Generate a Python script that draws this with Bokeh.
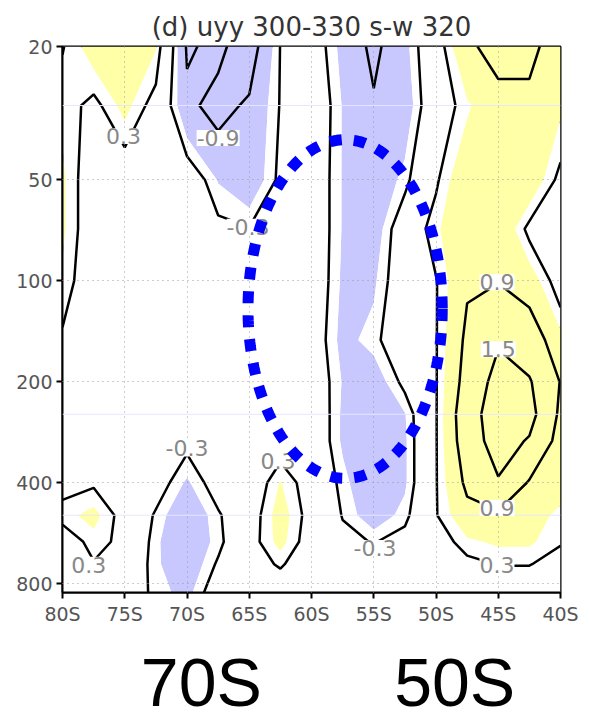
import numpy as np
from bokeh.plotting import figure
from bokeh.models import (Range1d, FixedTicker, CustomJSTickFormatter, PrintfTickFormatter,
                          ColumnDataSource, LabelSet, Span, LinearAxis)
from bokeh.embed import file_html
from bokeh.resources import INLINE
from bokeh.core.properties import value

# ---------------- data ----------------
title_text = "(d) uyy 300-330 s-w 320"
lats = [-80, -77.5, -75, -72.5, -70, -67.5, -65, -62.5, -60, -57.5, -55, -52.5, -50, -47.5, -45, -42.5, -40]
levels_hpa = [20, 30, 50, 70, 100, 150, 200, 250, 300, 400, 500, 600, 700, 850]

uyy_20  = [0.28, 0.65, 0.80, 0.52, -0.95, -0.80, -1.15, -0.29, -0.05, -0.60, -1.00, -0.60, 0.10, 0.85, 1.00, 1.00, 0.70]
uyy_30  = [0.45, 0.20, 0.60, 0.15, -0.80, -1.05, -0.83, -0.28, 0.05, -0.52, -0.85, -0.70, 0.05, 0.45, 0.80, 0.80, 0.55]
uyy_50  = [0.55, 0.05, 0.00, 0.00, 0.00, -0.52, -0.75, -0.22, 0.00, -0.52, -0.80, -0.40, 0.25, 0.80, 0.85, 0.75, 0.20]
uyy_70  = [0.55, 0.05, 0.00, -0.05, -0.05, -0.20, -0.28, -0.10, 0.00, -0.52, -0.70, 0.00, 0.45, 0.80, 0.85, 0.20, 0.10]
uyy_100 = [0.45, 0.05, 0.00, -0.05, -0.10, -0.10, -0.10, -0.05, 0.00, -0.55, -0.55, 0.00, 0.28, 0.85, 0.88, 0.70, 0.10]
uyy_150 = [0.25, 0.05, 0.00, -0.05, -0.10, -0.10, -0.10, -0.05, -0.05, -0.60, -0.40, 0.05, 0.28, 1.00, 1.45, 1.20, 0.60]
uyy_200 = [0.10, 0.05, 0.00, 0.00, -0.05, -0.05, 0.00, 0.00, 0.00, -0.52, -0.70, -0.20, 0.28, 1.10, 1.70, 1.55, 0.88]
uyy_250 = [0.10, 0.05, 0.05, 0.00, -0.05, -0.05, 0.00, 0.05, 0.05, -0.55, -0.75, -0.52, 0.28, 1.25, 1.80, 1.70, 0.80]
uyy_300 = [0.10, 0.10, 0.05, 0.00, -0.20, -0.10, 0.00, 0.10, 0.05, -0.55, -0.80, -0.55, 0.28, 1.20, 1.75, 1.45, 0.70]
uyy_400 = [0.20, 0.25, 0.05, -0.10, -0.55, -0.10, 0.00, 0.52, 0.10, -0.40, -0.85, -0.55, 0.28, 1.00, 1.45, 0.85, 0.60]
uyy_500 = [0.40, 0.60, 0.15, -0.35, -0.80, -0.35, 0.10, 0.65, 0.15, -0.32, -0.70, -0.40, 0.28, 0.75, 0.80, 0.60, 0.45]
uyy_600 = [0.10, 0.40, 0.22, -0.45, -0.80, -0.40, 0.15, 0.60, 0.10, -0.20, -0.32, -0.15, 0.10, 0.45, 0.55, 0.55, 0.32]
uyy_700 = [0.00, 0.28, 0.10, -0.45, -0.75, -0.25, 0.10, 0.35, 0.00, -0.10, -0.10, -0.05, 0.00, 0.20, 0.31, 0.31, 0.20]
uyy_850 = [-0.10, 0.00, 0.00, -0.40, -0.60, -0.05, 0.00, 0.00, 0.00, 0.00, 0.00, 0.00, 0.00, 0.05, 0.10, 0.10, 0.05]

lat_ticks = [-80, -75, -70, -65, -60, -55, -50, -45, -40]
p_ticks = [20, 50, 100, 200, 400, 800]
contour_levels = [-0.9, -0.3, 0.3, 0.9, 1.5]
shade_levels = [-3.0, -0.5, 0.5, 3.0]

label_text = ["0.3", "-0.9", "-0.3", "0.9", "1.5", "-0.3", "0.3", "0.9", "0.3", "-0.3", "0.3"]
label_lat = [-75.1, -67.5, -65.1, -45.1, -45.0, -70.0, -62.7, -45.1, -77.9, -54.9, -45.1]
label_p = [37, 37.5, 69, 101, 160, 316, 345, 476, 703, 626, 703]

faint_p = [30, 250, 500]

# highlighted region (ellipse): centre latitude, centre log10(p), half-widths
ell_lat, ell_logp, ell_a, ell_b = -57.3, 2.084, 7.8, 0.505

# big annotation texts under the chart and where they sit (latitude)
big_text = ["70S", "50S"]
big_text_lat = [-68.85, -48.5]

# ---------------- styles ----------------
BLUE = "#c8c8ff"
YELLOW = "#ffffa8"
FONT = "DejaVu Sans"

Z = np.array([uyy_20, uyy_30, uyy_50, uyy_70, uyy_100, uyy_150, uyy_200,
              uyy_250, uyy_300, uyy_400, uyy_500, uyy_600, uyy_700, uyy_850])

p = figure(width=589, height=722, x_range=Range1d(-80, -40), y_range=Range1d(850, 20),
           y_axis_type="log", output_backend="svg", toolbar_location=None,
           min_border_left=62, min_border_right=29, min_border_top=46, min_border_bottom=130)

p.title.text = title_text
p.title.align = "center"
p.title.text_font = FONT
p.title.text_font_size = "26px"
p.title.text_font_style = "normal"
p.title.text_color = "#333333"
p.title.standoff = 9

p.contour(lats, levels_hpa, Z, shade_levels, fill_color=[BLUE, "#ffffff", YELLOW])
p.contour(lats, levels_hpa, Z, contour_levels, line_color="black", line_width=2.5)

# axes
p.xaxis.ticker = FixedTicker(ticks=lat_ticks, minor_ticks=[])
p.xaxis.formatter = CustomJSTickFormatter(code="return Math.abs(tick) + 'S';")
p.yaxis.ticker = FixedTicker(ticks=p_ticks, minor_ticks=[])
p.yaxis.formatter = PrintfTickFormatter(format="%d")
for ax in (p.xaxis, p.yaxis):
    ax.axis_line_width = 2
    ax.major_tick_line_width = 2
    ax.major_tick_out = 6
    ax.major_tick_in = 0
    ax.minor_tick_line_color = None
    ax.major_label_text_font = FONT
    ax.major_label_text_font_size = "19px"
    ax.major_label_text_color = "#555555"
    ax.major_label_standoff = 4

# second "axis" below carrying the two large annotation texts
big_axis = LinearAxis(ticker=FixedTicker(ticks=big_text_lat, minor_ticks=[]),
                      formatter=CustomJSTickFormatter(args=dict(labels=big_text),
                                                      code="return labels[index];"),
                      axis_line_color=None, major_tick_line_color=None, minor_tick_line_color=None,
                      major_label_text_font="Liberation Sans", major_label_text_font_size="68px",
                      major_label_text_color="black", major_label_standoff=10)
p.add_layout(big_axis, "below")

p.outline_line_color = "black"
p.outline_line_width = 2

for g in (p.xgrid, p.ygrid):
    g.grid_line_color = "#9a9a9a"
    g.grid_line_dash = "1 4"
    g.grid_line_width = 1
    g.level = "guide"

for fp in faint_p:
    p.add_layout(Span(location=fp, dimension="width", line_color="#e6e6ff", line_width=1))

src = ColumnDataSource(dict(x=label_lat, y=label_p, text=label_text))
p.add_layout(LabelSet(x="x", y="y", text="text", source=src, text_align="center",
                      text_baseline="middle", text_font=value(FONT), text_font_size="22px",
                      text_color="#888888", background_fill_color="white"))

t = np.linspace(0, 2 * np.pi, 240)
ex = ell_lat + ell_a * np.cos(t)
ey = 10 ** (ell_logp + ell_b * np.sin(t))
p.line(ex, ey, line_color="#0000ff", line_width=11, line_dash="12 12", level="overlay")

open("out.html", "w").write(file_html(p, INLINE))
